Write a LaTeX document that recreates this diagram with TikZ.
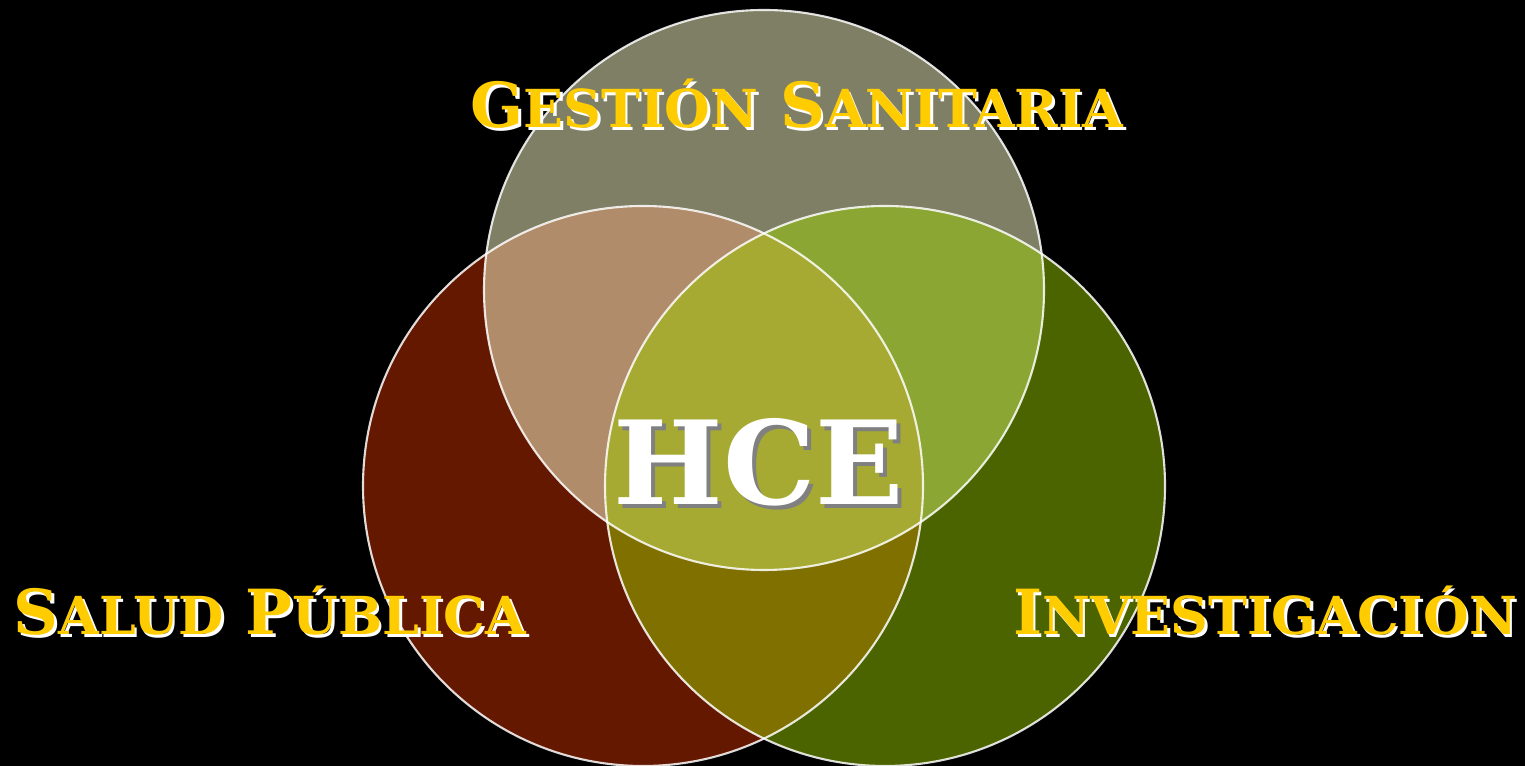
\documentclass[tikz,border=0pt]{standalone}
\usepackage{fontspec}
\newfontfamily\venntextfont{DejaVu Serif}
\usetikzlibrary{calc}

\definecolor{topgray}{RGB}{127,127,102}
\definecolor{leftred}{RGB}{101,24,0}
\definecolor{rightgreen}{RGB}{75,100,0}
\definecolor{topleft}{RGB}{176,140,106}
\definecolor{topright}{RGB}{139,166,51}
\definecolor{leftright}{RGB}{127,112,0}
\definecolor{allthree}{RGB}{166,170,51}
\definecolor{labelyellow}{RGB}{255,204,0}
\definecolor{hceshadow}{RGB}{128,128,128}

\newcommand{\lowcaps}[1]{{\fontsize{14.9}{16}\selectfont #1}}

\tikzset{
  area label/.style={font=\venntextfont\bfseries\fontsize{17.7}{20}\selectfont,
    text=labelyellow, anchor=base, inner sep=0pt},
  area shadow/.style={area label, text=white},
  hce label/.style={font=\venntextfont\bfseries\fontsize{33}{36}\selectfont,
    text=white, anchor=base, inner sep=0pt},
  hce shadow/.style={hce label, text=hceshadow},
  circle line/.style={draw=white, draw opacity=.85, line width=.6pt}
}

\begin{document}
\begin{tikzpicture}
	\fill[black] (0,0) rectangle (15.25,7.66);
	\useasboundingbox (0,0) rectangle (15.25,7.66);

	% centres of the three sets
	\coordinate (top) at (7.64,4.76);
	\coordinate (left) at (6.43,2.80);
	\coordinate (right) at (8.85,2.80);

	\fill[topgray] (top) circle (2.8);
	\fill[leftred] (left) circle (2.8);
	\fill[rightgreen] (right) circle (2.8);

	\begin{scope}
	\clip (top) circle (2.8);
	\fill[topleft] (left) circle (2.8);
	\fill[topright] (right) circle (2.8);
	\end{scope}

	\begin{scope}
	\clip (left) circle (2.8);
	\fill[leftright] (right) circle (2.8);
	\clip (right) circle (2.8);
	\fill[allthree] (top) circle (2.8);
	\end{scope}

	\draw[circle line] (top) circle (2.8);
	\draw[circle line] (left) circle (2.8);
	\draw[circle line] (right) circle (2.8);

	% labels
	\node[area shadow] (gs-sh) at (7.995,6.355) {G\lowcaps{ESTIÓN} S\lowcaps{ANITARIA}};
	\node[area label] (gs) at (7.97,6.38) {G\lowcaps{ESTIÓN} S\lowcaps{ANITARIA}};

	\node[area shadow] (sp-sh) at (2.725,1.285) {S\lowcaps{ALUD} P\lowcaps{ÚBLICA}};
	\node[area label] (sp) at (2.70,1.31) {S\lowcaps{ALUD} P\lowcaps{ÚBLICA}};

	\node[area shadow] (inv-sh) at (12.675,1.285) {I\lowcaps{NVESTIGACIÓN}};
	\node[area label] (inv) at (12.65,1.31) {I\lowcaps{NVESTIGACIÓN}};

	\node[hce shadow] (hce-sh) at (7.63,2.57) {HCE};
	\node[hce label] (hce) at (7.59,2.61) {HCE};
\end{tikzpicture}
\end{document}
